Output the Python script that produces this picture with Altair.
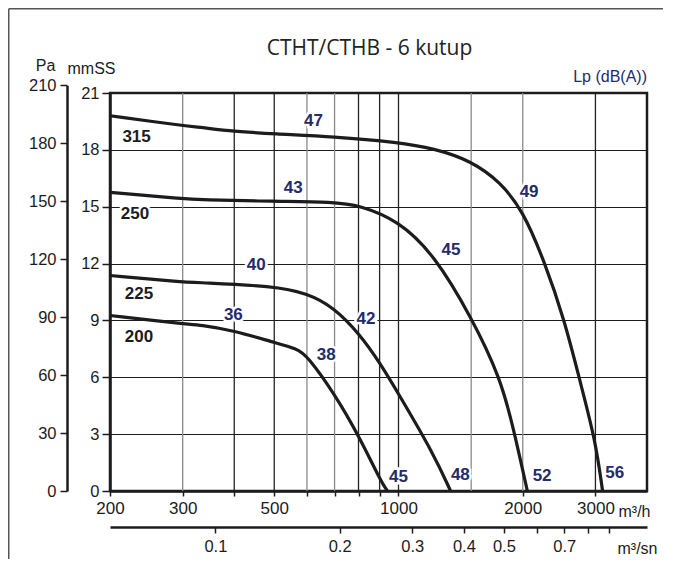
import altair as alt
import pandas as pd

# ---------------- data ----------------
FANS = ["315", "250", "225", "200"]
Q_315 = [200, 300, 331, 398, 497, 696, 1000, 1216, 1500, 1768, 2000, 2253, 2527, 2762, 3000, 3122]
P_315 = [19.8, 19.28, 19.19, 18.98, 18.84, 18.70, 18.40, 18.08, 17.43, 16.29, 14.80, 12.16, 9.0, 5.66, 2.67, 0.0]
Q_250 = [200, 300, 331, 497, 696, 804, 1000, 1216, 1500, 1768, 1904, 2052]
P_250 = [15.76, 15.42, 15.36, 15.28, 15.26, 15.08, 14.27, 12.51, 9.2, 5.95, 3.2, 0.0]
Q_225 = [200, 300, 331, 497, 600, 696, 804, 904, 1000, 1216, 1337]
P_225 = [11.37, 11.02, 11.0, 10.81, 10.44, 9.70, 8.30, 6.72, 5.13, 1.97, 0.0]
Q_200 = [200, 300, 331, 398, 497, 568, 600, 700, 804, 904, 940]
P_200 = [9.26, 8.82, 8.77, 8.47, 7.85, 7.51, 7.15, 5.13, 2.85, 0.56, 0.0]

# sound level labels Lp dB(A)
LP_TEXT = ["47", "49", "43", "45", "40", "42", "36", "38", "45", "48", "52", "56"]
LP_Q = [622, 2072, 556, 1340, 452, 834, 398, 668, 1000, 1412, 2228, 3340]
LP_MM = [19.5, 15.76, 16.0, 12.74, 11.9, 9.05, 9.31, 7.2, 0.74, 0.83, 0.77, 0.95]

# fan size labels
NAME_TEXT = ["315", "250", "225", "200"]
NAME_Q = [232, 230, 235, 235]
NAME_MM = [18.66, 14.62, 10.4, 8.15]

# grid / ticks
GRID_Q = [300, 400, 500, 600, 700, 800, 900, 1000, 1500, 2000, 3000]
GRID_TONE = ["gray", "black", "black", "gray", "gray", "black", "black", "black", "gray", "gray", "black"]
X_TICKS = [200, 300, 400, 500, 600, 700, 800, 900, 1000, 2000, 3000]
X_LABELS = [200, 300, 500, 1000, 2000, 3000]
MM_TICKS = [0, 3, 6, 9, 12, 15, 18, 21]
PA_TICKS = [0, 30, 60, 90, 120, 150, 180, 210]
M3S_TICKS = [0.1, 0.2, 0.3, 0.4, 0.5, 0.6, 0.7, 0.8, 0.9]
M3S_LABELS = [0.1, 0.2, 0.3, 0.4, 0.5, 0.7]
Q_MIN, Q_MAX = 200, 4000
MM_MAX = 21
PA_PER_MM = 9.80665

# ---------------- tables ----------------
rows = []
for fan, qs, ps in zip(FANS, [Q_315, Q_250, Q_225, Q_200], [P_315, P_250, P_225, P_200]):
    for i, (q, p) in enumerate(zip(qs, ps)):
        rows.append({"fan": fan, "i": i, "Q": q, "mm": p})
curves_df = pd.DataFrame(rows)
lp_df = pd.DataFrame({"t": LP_TEXT, "Q": LP_Q, "mm": LP_MM})
name_df = pd.DataFrame({"t": NAME_TEXT, "Q": NAME_Q, "mm": NAME_MM})
grid_df = pd.DataFrame({"Q": GRID_Q, "tone": GRID_TONE})

W, H = 537, 398
PAD = {"left": 102, "top": 85, "right": 16, "bottom": 68}
FONT = "Liberation Sans"
INK = "#1c1c1c"
NAVY = "#262a6b"

xscale = alt.Scale(type="log", domain=[Q_MIN, Q_MAX], nice=False)
yscale = alt.Scale(domain=[0, MM_MAX], nice=False)

x_lab_expr = "indexof([" + ",".join(str(v) for v in X_LABELS) + "], datum.value) >= 0 ? datum.value : ''"
xaxis = alt.Axis(values=X_TICKS, labelExpr=x_lab_expr, grid=False, tickSize=5, labelPadding=4,
                 labelFontSize=17, labelFlush=False, labelOverlap=False,
                 title="m³/h", titleAngle=0, titleX=508, titleY=20, titleAlign="left",
                 titleBaseline="middle", titleFontSize=16)
yaxis = alt.Axis(values=MM_TICKS, grid=True, gridColor=INK, gridWidth=1, tickSize=8, labelPadding=3,
                 labelFontSize=16.5, title="mmSS", titleAngle=0, titleX=-19, titleY=-25,
                 titleAlign="center", titleBaseline="middle", titleFontSize=16)

X = alt.X("Q:Q", scale=xscale, axis=xaxis)
Y = alt.Y("mm:Q", scale=yscale, axis=yaxis)

# outer page frame (top and left edges only)
one = pd.DataFrame({"k": [0]})
frame_top = alt.Chart(one).mark_rule(stroke="#555555", strokeWidth=1.5).encode(
    x=alt.value(-PAD["left"] + 0.75), x2=alt.value(W + PAD["right"]), y=alt.value(-PAD["top"] + 0.75))
frame_left = alt.Chart(one).mark_rule(stroke="#555555", strokeWidth=1.5).encode(
    x=alt.value(-PAD["left"] + 0.75), y=alt.value(-PAD["top"] + 0.75), y2=alt.value(H + PAD["bottom"]))

rules = alt.Chart(grid_df).mark_rule(strokeWidth=1.3).encode(
    x=X,
    color=alt.Color("tone:N", scale=alt.Scale(domain=["gray", "black"], range=["#8a8a8a", "#222222"]), legend=None))

curves = alt.Chart(curves_df).mark_line(interpolate="basis", strokeWidth=3.2, color=INK).encode(
    x=X, y=Y, detail="fan:N", order="i:Q")

def label_layers(df, color):
    halo = alt.Chart(df).mark_text(font=FONT, fontSize=17, fontWeight="bold", stroke="white",
                                   strokeWidth=5, fill="white").encode(x=X, y=Y, text="t:N")
    txt = alt.Chart(df).mark_text(font=FONT, fontSize=17, fontWeight="bold", color=color).encode(
        x=X, y=Y, text="t:N")
    return [halo, txt]

lp_title = alt.Chart(pd.DataFrame({"Q": [Q_MAX], "mm": [21.85], "t": ["Lp (dB(A))"]})).mark_text(
    font=FONT, fontSize=16, color=NAVY, align="right").encode(x=X, y=Y, text="t:N")

inner = alt.layer(frame_top, frame_left, rules, curves, *label_layers(lp_df, NAVY),
                  *label_layers(name_df, INK), lp_title)

pa_layer = alt.Chart(pd.DataFrame({"Pa": PA_TICKS})).mark_point(opacity=0).encode(
    y=alt.Y("Pa:Q",
            scale=alt.Scale(domain=[0, 210], range=[H, H - 210 / PA_PER_MM * H / MM_MAX], nice=False),
            axis=alt.Axis(orient="left", offset=43, values=PA_TICKS, grid=False, tickSize=7, labelPadding=4,
                          labelFontSize=16.5, title="Pa", titleAngle=0, titleX=-22, titleY=-28,
                          titleAlign="center", titleBaseline="middle", titleFontSize=16)))

m3s_expr = "indexof([" + ",".join(str(v) for v in M3S_LABELS) + "], datum.value) >= 0 ? datum.value : ''"
m3s_layer = alt.Chart(pd.DataFrame({"m3s": M3S_TICKS})).mark_point(opacity=0).encode(
    x=alt.X("m3s:Q",
            scale=alt.Scale(type="log", domain=[Q_MIN / 3600, Q_MAX / 3600], nice=False),
            axis=alt.Axis(orient="bottom", offset=36, values=M3S_TICKS, labelExpr=m3s_expr, grid=False,
                          tickSize=6, labelPadding=5, labelFontSize=16.5, labelFlush=False, labelOverlap=False,
                          title="m³/sn", titleAngle=0, titleX=507, titleY=21, titleAlign="left",
                          titleBaseline="middle", titleFontSize=16)))

chart = alt.layer(inner, pa_layer, m3s_layer).resolve_scale(
    x="independent", y="independent"
).properties(
    width=W, height=H,
    autosize=alt.AutoSizeParams(type="none"),
    padding=PAD,
    title=alt.Title("CTHT/CTHB - 6 kutup", font="Open Sans", fontSize=21, fontWeight="normal",
                    color="#222222", anchor="middle", dx=-9, offset=0, dy=51),
).configure_view(
    stroke=INK, strokeWidth=2.5
).configure_axis(
    domainColor=INK, domainWidth=2.5, tickColor=INK, tickWidth=1.5, labelColor=INK,
    labelFont=FONT, titleFont=FONT, titleFontWeight="normal", titleColor=INK
)

chart.save("out.html", embed_options={"renderer": "svg", "actions": False})
